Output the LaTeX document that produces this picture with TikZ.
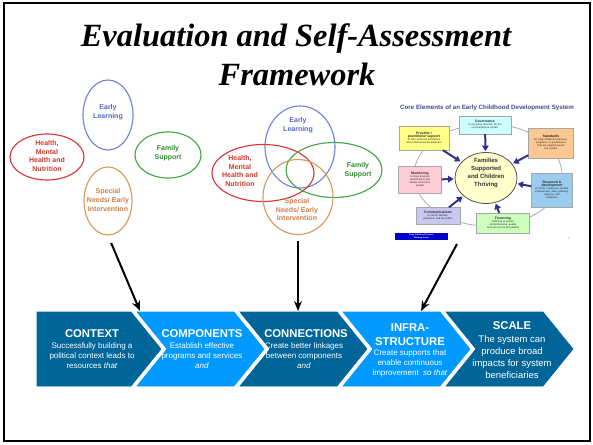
\documentclass[tikz,border=0pt]{standalone}
\usepackage{fontspec}
\setmainfont{Liberation Serif}
\setsansfont{Liberation Sans}
\usetikzlibrary{arrows.meta,positioning,shapes.geometric}

\definecolor{elblue}{HTML}{7183DA}
\definecolor{elbluetext}{HTML}{5266C8}
\definecolor{elgreen}{HTML}{45A845}
\definecolor{elgreentext}{HTML}{2F8A2F}
\definecolor{elred}{HTML}{D9383A}
\definecolor{elredtext}{HTML}{D03A2A}
\definecolor{elorange}{HTML}{D49B5C}
\definecolor{elorangetext}{HTML}{CF7D45}
\definecolor{chevdark}{HTML}{006699}
\definecolor{chevbright}{HTML}{0099FF}
\definecolor{coretitle}{HTML}{3D4A8A}
\definecolor{corenavy}{HTML}{2E3192}
\definecolor{hubfill}{HTML}{FFFFCC}
\definecolor{ecsblue}{HTML}{0000CC}

\newcommand{\boxhead}[1]{{\bfseries\fontsize{3.4}{3.9}\selectfont #1}}

\begin{document}
\begin{tikzpicture}[x=1pt,y=-1pt,line join=miter,
                    >={Stealth[length=10pt,width=8pt]}]
	  \tikzstyle{petal}=[ellipse,draw,line width=1.15pt,inner sep=0pt]
	  \tikzstyle{petal text}=[font=\sffamily\bfseries\fontsize{7}{8.7}\selectfont,align=center,inner sep=0pt]
	  \tikzstyle{pointer}=[->,line width=2pt,black]
	  \tikzstyle{chevron}=[draw=black!60!chevdark,line width=0.6pt]
	  \tikzstyle{chevron title}=[text=white,font=\sffamily\bfseries\fontsize{11.3}{14}\selectfont,align=center,inner sep=0pt]
	  \tikzstyle{chevron text}=[text=white,font=\sffamily\fontsize{8}{10}\selectfont,align=center,inner sep=0pt]
	  \tikzstyle{core box}=[draw=gray!70,line width=0.4pt,inner sep=0.8pt,align=center,text=black!85,
	                        font=\sffamily\fontsize{2.6}{3}\selectfont]
	  \tikzstyle{core arrow}=[-{Triangle[length=5.5pt,width=6.5pt]},line width=2pt,draw=corenavy,fill=corenavy,shorten >=1pt]

	  \useasboundingbox (0,0) rectangle (593,444);
	  \draw[line width=2.5pt] (4,3) rectangle (590,441);

	  % title
	  \node[anchor=base,font=\bfseries\itshape\fontsize{32.4}{39}\selectfont] (title) at (296,46) {Evaluation and Self-Assessment};
	  \node[anchor=base,font=\bfseries\itshape\fontsize{32.4}{39}\selectfont] (title-2) at (297,85) {Framework};

	  % separate circles
	  \node[petal,draw=elblue,minimum width=50,minimum height=70]   (learning) at (108,115) {};
	  \node[petal,draw=elgreen,minimum width=66,minimum height=46]  (family)   at (168,155) {};
	  \node[petal,draw=elred,minimum width=74,minimum height=46]    (health)   at (47,157)  {};
	  \node[petal,draw=elorange,minimum width=48,minimum height=68] (needs)    at (108,201) {};
	  \node[petal text,text=elbluetext]   (learning-text) at (108,112.5) {Early\\Learning};
	  \node[petal text,text=elgreentext]  (family-text)   at (168,153.5) {Family\\Support};
	  \node[petal text,text=elredtext]    (health-text)   at (47,156)    {Health,\\Mental\\Health and\\Nutrition};
	  \node[petal text,text=elorangetext] (needs-text)    at (108,200)   {Special\\Needs/ Early\\Intervention};

	  % overlapping circles
	  \node[petal,draw=elblue,minimum width=70,minimum height=82]    (v-learning) at (300,147) {};
	  \node[petal,draw=elred,minimum width=102,minimum height=57]    (v-health)   at (263,173) {};
	  \node[petal,draw=elgreen,minimum width=96,minimum height=55]   (v-family)   at (334,170) {};
	  \node[petal,draw=elorange,minimum width=70,minimum height=75]  (v-needs)    at (298,197) {};
	  \node[petal text,text=elbluetext]   (v-learning-text) at (298,125.5) {Early\\Learning};
	  \node[petal text,text=elredtext]    (v-health-text)   at (240,171)   {Health,\\Mental\\Health and\\Nutrition};
	  \node[petal text,text=elgreentext]  (v-family-text)   at (358,170)   {Family\\Support};
	  \node[petal text,text=elorangetext] (v-needs-text)    at (297,209.5) {Special\\Needs/ Early\\Intervention};

	  % core elements picture
	  \node[font=\sffamily\bfseries\fontsize{6.2}{7}\selectfont,text=coretitle,inner sep=0pt] (core-title) at (487,108)
	       {Core Elements of an Early Childhood Development System};
	  \draw[gray!60,line width=0.9pt] (488,175) ellipse [x radius=74,y radius=51];
	  \node[ellipse,draw=black!65,fill=hubfill,line width=0.8pt,minimum width=62,minimum height=51,inner sep=0pt] (hub) at (486,178) {};
	  \node[font=\sffamily\bfseries\fontsize{6}{7.7}\selectfont,text=black!80,align=center,inner sep=0pt] (hub-text) at (486,173)
	       {Families\\Supported\\and Children\\Thriving};
	  \node[core box,fill={rgb,255:red,204;green,255;blue,255},minimum width=52,minimum height=18,text width=49] (governance) at (485,125)
	       {\boxhead{Governance}\\to set policy direction for the\\comprehensive system};
	  \node[core box,fill={rgb,255:red,252;green,200;blue,146},minimum width=45,minimum height=30,text width=42] (standards) at (551,143)
	       {\boxhead{Standards}\\for early childhood practices,\\programs, or practitioners\\that are aligned across\\the system};
	  \node[core box,fill={rgb,255:red,153;green,204;blue,238},minimum width=41,minimum height=34,text width=38] (research) at (552,190)
	       {\boxhead{Research \&}\\\boxhead{development}\\to inform continuous system\\improvement, data, planning,\\analysis, and\\evaluation};
	  \node[core box,fill={rgb,255:red,204;green,255;blue,187},minimum width=53,minimum height=20,text width=50] (financing) at (503,223)
	       {\boxhead{Financing}\\sufficient to ensure\\comprehensive, quality\\services across all systems};
	  \node[core box,fill={rgb,255:red,200;green,200;blue,240},minimum width=44,minimum height=17,text width=41] (communications) at (438,216)
	       {\boxhead{Communications}\\to inform families,\\providers, and the public};
	  \node[core box,fill={rgb,255:red,255;green,204;blue,213},minimum width=43,minimum height=27,text width=40] (monitoring) at (420,180)
	       {\boxhead{Monitoring}\\to track program\\performance and\\results across the\\system};
	  \node[core box,fill={rgb,255:red,255;green,255;blue,136},minimum width=50,minimum height=24,text width=47] (provider) at (424,138)
	       {\boxhead{Provider /}\\\boxhead{practitioner support}\\to offer technical assistance\\and professional development};
	  \draw[core arrow] (governance) -- (hub);
	  \draw[core arrow] (standards) -- (hub);
	  \draw[core arrow] (research) -- (hub);
	  \draw[core arrow] (financing) -- (hub);
	  \draw[core arrow] (communications) -- (hub);
	  \draw[core arrow] (monitoring) -- (hub);
	  \draw[core arrow] (provider) -- (hub);
	  \node[fill=ecsblue,minimum width=53,minimum height=7,inner sep=0pt,text=white,align=center,
	        font=\sffamily\bfseries\fontsize{2}{2.4}\selectfont] (credit) at (421.5,236.5) {Early Childhood Systems\\Working Group};
	  \node[font=\sffamily\fontsize{3}{3}\selectfont,text=gray,inner sep=0pt] (page-no) at (569,238) {1};

	  % chevrons
	  \fill[chevron,chevdark]   (37,312) -- (131,312) -- (161,349) -- (131,386) -- (37,386) -- cycle;
	  \fill[chevron,chevbright] (137,312) -- (234,312) -- (264,349) -- (234,386) -- (137,386) -- (167,349) -- cycle;
	  \fill[chevron,chevdark]   (240,312) -- (337,312) -- (367,349) -- (337,386) -- (240,386) -- (270,349) -- cycle;
	  \fill[chevron,chevbright] (343,312) -- (440,312) -- (470,349) -- (440,386) -- (343,386) -- (373,349) -- cycle;
	  \fill[chevron,chevdark]   (446,312) -- (543,312) -- (573,349) -- (543,386) -- (446,386) -- (476,349) -- cycle;

	  \node[chevron title] (context)          at (92,334)  {CONTEXT};
	  \node[chevron text]  (context-text)     at (92,356)  {Successfully building a\\political context leads to\\resources \textit{that}};
	  \node[chevron title] (components)       at (202,334) {COMPONENTS};
	  \node[chevron text]  (components-text)  at (202,356) {Establish effective\\programs and services\\\textit{and}};
	  \node[chevron title] (connections)      at (306,334) {CONNECTIONS};
	  \node[chevron text]  (connections-text) at (304,356) {Create better linkages\\between components\\\textit{and}};
	  \node[chevron title] (infra)            at (410,335) {INFRA-\\STRUCTURE};
	  \node[chevron text]  (infra-text)       at (410,363) {Create supports that\\enable continuous\\improvement \ \textit{so that}};
	  \node[chevron title] (scale)            at (512,326) {SCALE};
	  \node[chevron text,font=\sffamily\fontsize{9.5}{12}\selectfont] (scale-text) at (512,357)
	       {The system can\\produce broad\\impacts for system\\beneficiaries};

	  % pointers
	  \coordinate (components-in)  at (140,311);
	  \coordinate (connections-in) at (298,311);
	  \coordinate (infra-in)       at (421,311);
	  \coordinate (core-foot)      at (457,244);
	  \draw[pointer,shorten <=8pt] (needs.south) -- (components-in);
	  \draw[pointer,shorten <=6pt] (v-needs.south) -- (connections-in);
	  \draw[pointer] (core-foot) -- (infra-in);
	\end{tikzpicture}
\end{document}
